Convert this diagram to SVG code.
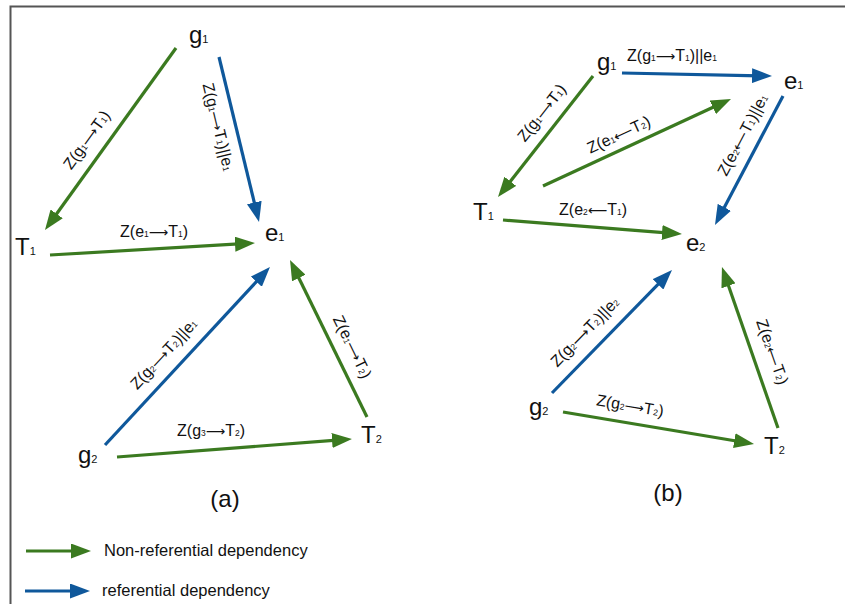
<svg xmlns="http://www.w3.org/2000/svg" width="845" height="604" viewBox="0 0 845 604">
<style>
.g{stroke:#3b7a20;stroke-width:3.2;fill:none;marker-end:url(#ag)}
.b{stroke:#0f589b;stroke-width:3.2;fill:none;marker-end:url(#ab)}
text{font-family:"Liberation Sans",Arial,sans-serif;fill:#111}
.n{font-size:24px}
.ns{font-size:11px}
.l{font-size:16px;text-anchor:middle}
.s{font-size:8.5px}
.ar{font-family:"DejaVu Sans",sans-serif;font-size:13.5px}
.cap{font-size:24px;text-anchor:middle}
.leg{font-size:16.5px}
</style>
<defs>
<marker id="ag" markerUnits="userSpaceOnUse" markerWidth="20" markerHeight="15" viewBox="0 0 20 15" refX="8" refY="7.5" orient="auto"><path d="M0,0 L20,7.5 L0,15 z" fill="#3b7a20"/></marker>
<marker id="ab" markerUnits="userSpaceOnUse" markerWidth="20" markerHeight="15" viewBox="0 0 20 15" refX="8" refY="7.5" orient="auto"><path d="M0,0 L20,7.5 L0,15 z" fill="#0f589b"/></marker>
</defs>
<rect width="845" height="604" fill="#fff"/>
<path d="M10.5,604 V6.5 H845" fill="none" stroke="#555" stroke-width="2"/>

<g id="connectors">
<line class="g" x1="176" y1="48" x2="52" y2="220.3"/>
<line class="b" x1="219" y1="57" x2="256.2" y2="210.3"/>
<line class="g" x1="50" y1="255" x2="243" y2="243.7"/>
<line class="b" x1="105" y1="445" x2="261.8" y2="275.8"/>
<line class="g" x1="367" y1="417" x2="295.3" y2="270.8"/>
<line class="g" x1="117" y1="457" x2="340" y2="439.9"/>

<line class="b" x1="622" y1="73" x2="760" y2="75.8"/>
<line class="g" x1="593" y1="76" x2="505.4" y2="187.6"/>
<line class="g" x1="543" y1="186" x2="720.1" y2="104"/>
<line class="b" x1="783" y1="96" x2="720.6" y2="214.4"/>
<line class="g" x1="503" y1="220" x2="670" y2="233.1"/>
<line class="b" x1="552" y1="393" x2="663.6" y2="278.6"/>
<line class="g" x1="778" y1="428" x2="725.9" y2="278.3"/>
<line class="g" x1="563" y1="412" x2="742.2" y2="442"/>

<line class="g" x1="26" y1="551" x2="79" y2="551"/>
<line class="b" x1="25" y1="591" x2="78" y2="591"/>

<text class="l" transform="translate(87,140) rotate(-54.3)" y="5">Z(g<tspan class="s">1</tspan><tspan class="ar">⟶</tspan>T<tspan class="s">1</tspan>)</text>
<text class="l" transform="translate(218,127) rotate(76.4)" y="5">Z(g<tspan class="s">1</tspan><tspan class="ar">⟶</tspan>T<tspan class="s">1</tspan>)||e<tspan class="s">1</tspan></text>
<text class="l" x="154" y="237">Z(e<tspan class="s">1</tspan><tspan class="ar">⟶</tspan>T<tspan class="s">1</tspan>)</text>
<text class="l" transform="translate(164,354) rotate(-47.2)" y="5">Z(g<tspan class="s">2</tspan><tspan class="ar">⟶</tspan>T<tspan class="s">2</tspan>)||e<tspan class="s">1</tspan></text>
<text class="l" transform="translate(352,347) rotate(63.9)" y="5">Z(e<tspan class="s">1</tspan><tspan class="ar">⟶</tspan>T<tspan class="s">2</tspan>)</text>
<text class="l" x="211" y="436">Z(g<tspan class="s">3</tspan><tspan class="ar">⟶</tspan>T<tspan class="s">2</tspan>)</text>

<text class="l" x="672" y="61">Z(g<tspan class="s">1</tspan><tspan class="ar">⟶</tspan>T<tspan class="s">1</tspan>)||e<tspan class="s">1</tspan></text>
<text class="l" transform="translate(542,113) rotate(-51.9)" y="5">Z(g<tspan class="s">1</tspan><tspan class="ar">⟶</tspan>T<tspan class="s">1</tspan>)</text>
<text class="l" transform="translate(619,135) rotate(-24.8)" y="5">Z(e<tspan class="s">1</tspan><tspan class="ar">⟵</tspan>T<tspan class="s">2</tspan>)</text>
<text class="l" transform="translate(743,135) rotate(-62.2)" y="5">Z(e<tspan class="s">2</tspan><tspan class="ar">⟵</tspan>T<tspan class="s">1</tspan>)||e<tspan class="s">1</tspan></text>
<text class="l" x="593" y="215">Z(e<tspan class="s">2</tspan><tspan class="ar">⟵</tspan>T<tspan class="s">1</tspan>)</text>
<text class="l" transform="translate(585,332) rotate(-45.7)" y="5">Z(g<tspan class="s">2</tspan><tspan class="ar">⟶</tspan>T<tspan class="s">2</tspan>)||e<tspan class="s">2</tspan></text>
<text class="l" transform="translate(772,352) rotate(70.8)" y="5">Z(e<tspan class="s">2</tspan><tspan class="ar">⟵</tspan>T<tspan class="s">2</tspan>)</text>
<text class="l" transform="translate(630,406) rotate(9.5)" y="5">Z(g<tspan class="s">2</tspan><tspan class="ar">⟶</tspan>T<tspan class="s">2</tspan>)</text>
</g>

<g id="a-g1"><text class="n" x="189" y="43">g<tspan class="ns">1</tspan></text></g>
<g id="a-T1"><text class="n" x="15" y="255">T<tspan class="ns">1</tspan></text></g>
<g id="a-e1"><text class="n" x="265" y="241">e<tspan class="ns">1</tspan></text></g>
<g id="a-g2"><text class="n" x="78" y="463">g<tspan class="ns">2</tspan></text></g>
<g id="a-T2"><text class="n" x="361" y="443">T<tspan class="ns">2</tspan></text></g>
<g id="cap-a"><text class="cap" x="225" y="507">(a)</text></g>

<g id="b-g1"><text class="n" x="597" y="70">g<tspan class="ns">1</tspan></text></g>
<g id="b-e1"><text class="n" x="784" y="89">e<tspan class="ns">1</tspan></text></g>
<g id="b-T1"><text class="n" x="473" y="220">T<tspan class="ns">1</tspan></text></g>
<g id="b-e2"><text class="n" x="686" y="251">e<tspan class="ns">2</tspan></text></g>
<g id="b-g2"><text class="n" x="529" y="415">g<tspan class="ns">2</tspan></text></g>
<g id="b-T2"><text class="n" x="764" y="454">T<tspan class="ns">2</tspan></text></g>
<g id="cap-b"><text class="cap" x="668" y="501">(b)</text></g>

<g id="legend">
<text class="leg" x="104" y="556">Non-referential dependency</text>
<text class="leg" x="102" y="596">referential dependency</text>
</g>
</svg>
